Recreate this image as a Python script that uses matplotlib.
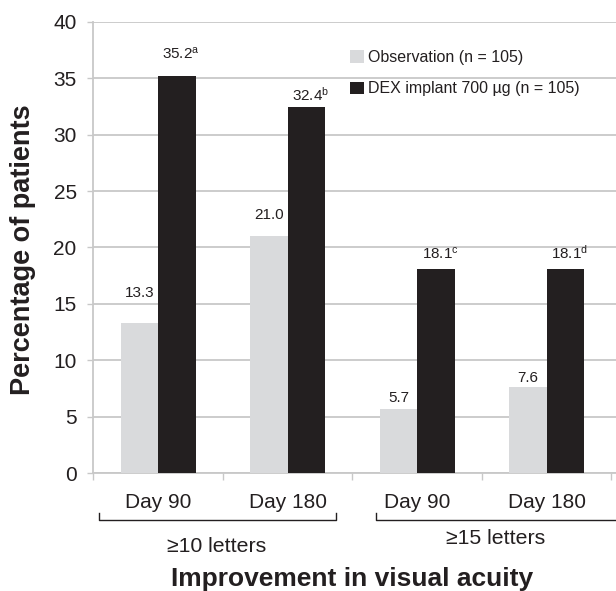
import matplotlib
matplotlib.use("Agg")
import matplotlib.pyplot as plt
import matplotlib.transforms as mtransforms
import numpy as np

plt.rcParams['font.family'] = ['Liberation Sans', 'DejaVu Sans']
plt.rcParams['mathtext.default'] = 'regular'

# ---- data ----
categories = ["Day 90", "Day 180", "Day 90", "Day 180"]
groups = ["\u226510 letters", "\u226515 letters"]
series_names = ["Observation (n = 105)", "DEX implant 700 \u00b5g (n = 105)"]
observation = [13.3, 21.0, 5.7, 7.6]
dex_implant = [35.2, 32.4, 18.1, 18.1]
obs_notes = ["", "", "", ""]
dex_notes = ["a", "b", "c", "d"]
yticks = [0, 5, 10, 15, 20, 25, 30, 35, 40]

# ---- style ----
c_obs = "#d9dadc"
c_dex = "#231f20"
grid_c = "#c8c8c8"
txt_c = "#231f20"
bw = 0.29
obs_offsets = [17, 10, 3, 2]   # label offsets (points)
dex_offsets = [10, 3, 5, 5]

fig = plt.figure(figsize=(6.16, 5.91), dpi=100)
ax = fig.add_axes([0.1515, 0.1992, 0.8485, 0.7641])

x = np.arange(len(categories))
b1 = ax.bar(x - bw / 2, observation, width=bw, color=c_obs, zorder=3)
b2 = ax.bar(x + bw / 2, dex_implant, width=bw, color=c_dex, zorder=3)

for rect, v, n, off in zip(b1, observation, obs_notes, obs_offsets):
    lab = f"{v:.1f}" + (f"$^{{{n}}}$" if n else "")
    ax.annotate(lab, (rect.get_x() + rect.get_width() / 2, v), xytext=(0, off),
                textcoords="offset points", ha="center", va="bottom",
                fontsize=11, color=txt_c, zorder=4)
for rect, v, n, off in zip(b2, dex_implant, dex_notes, dex_offsets):
    lab = f"{v:.1f}" + (f"$^{{{n}}}$" if n else "")
    ax.annotate(lab, (rect.get_x() + rect.get_width() / 2, v), xytext=(3, off),
                textcoords="offset points", ha="center", va="bottom",
                fontsize=11, color=txt_c, zorder=4)

ax.set_xlim(-0.5, 3.535)
ax.set_ylim(0, 40)
ax.set_yticks(yticks)
ax.yaxis.grid(True, color=grid_c, linewidth=1.3, zorder=0)
ax.set_axisbelow(True)
ax.tick_params(axis="y", length=4, width=1, color=grid_c, labelsize=15,
               labelcolor=txt_c, pad=8)

ax.set_xticks(x)
ax.set_xticklabels(categories)
ax.tick_params(axis="x", which="major", length=0, pad=14.5, labelsize=15,
               labelcolor=txt_c)
ax.set_xticks(np.arange(len(categories) + 1) - 0.5, minor=True)
ax.tick_params(axis="x", which="minor", length=5, width=1, color=grid_c)

for s in ["top", "right"]:
    ax.spines[s].set_visible(False)
for s in ["left", "bottom"]:
    ax.spines[s].set_color(grid_c)
    ax.spines[s].set_linewidth(1.3)

# group brackets
trans = mtransforms.blended_transform_factory(ax.transData, ax.transAxes)
by = -0.103
bh = 0.016
spans = [(-0.459, 1.376), (1.685, 3.7)]
label_x = [0.45, 2.605]
for (x0, x1), g, lx, ty in zip(spans, groups, label_x, [-0.163, -0.145]):
    ax.plot([x0, x0, x1, x1], [by + bh, by, by, by + bh], color="#231f20",
            lw=1.0, transform=trans, clip_on=False)
    ax.text(lx, ty, g, transform=trans, ha="center", va="center",
            fontsize=15.3, color=txt_c)

fig.text(351.7 / 616, 1 - 579 / 591, "Improvement in visual acuity",
         ha="center", va="center", fontsize=19, fontweight="bold", color=txt_c)
fig.text(23 / 616, 1 - 250 / 591, "Percentage of patients", rotation=90,
         ha="center", va="center", fontsize=19.5, fontweight="bold", color=txt_c)

leg = ax.legend([b1, b2], series_names, loc="upper left",
                bbox_to_anchor=(0.491, 0.938), frameon=False, fontsize=11.5,
                handlelength=0.85, handleheight=0.85, handletextpad=0.25,
                labelspacing=1.05, borderpad=0, borderaxespad=0)
for t in leg.get_texts():
    t.set_color(txt_c)

fig.savefig("out.png", dpi=100)
